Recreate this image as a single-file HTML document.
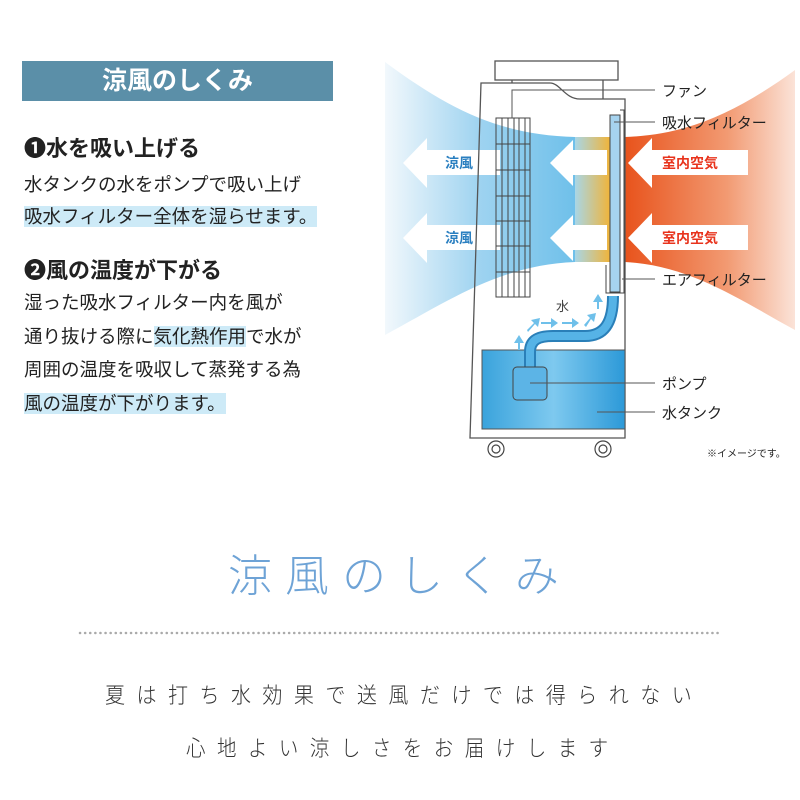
<!DOCTYPE html>
<html><head><meta charset="utf-8"><style>
html,body{margin:0;padding:0;background:#fff;width:800px;height:800px;overflow:hidden}
body{position:relative;font-family:"Liberation Sans","Noto Sans CJK JP",sans-serif;color:#222}
.t{position:absolute;white-space:nowrap}
.hl{background:#cdeaf7}
</style></head><body>
<svg width="800" height="800" style="position:absolute;left:0;top:0">
<defs>
<linearGradient id="bl" x1="0" x2="1"><stop offset="0" stop-color="#f2f8fc"/><stop offset="0.5" stop-color="#9ed3f0"/><stop offset="1" stop-color="#6fc0ea"/></linearGradient>
<linearGradient id="rd" x1="0" x2="1"><stop offset="0" stop-color="#e8531c"/><stop offset="0.6" stop-color="#f29a72"/><stop offset="1" stop-color="#fbe3d8"/></linearGradient>
<linearGradient id="yl" x1="0" x2="1"><stop offset="0" stop-color="#a9d6e6"/><stop offset="1" stop-color="#f0b43a"/></linearGradient>
<linearGradient id="tk" x1="0" x2="1"><stop offset="0" stop-color="#3aa3dc"/><stop offset="0.5" stop-color="#7ec9ef"/><stop offset="1" stop-color="#2c99d8"/></linearGradient>
</defs>
<path d="M385,62 C450,110 500,135 575,137 L575,262 C500,265 450,300 385,335 Z" fill="url(#bl)"/>
<rect x="575" y="137" width="35" height="125" fill="url(#yl)"/>
<path d="M625,137 C690,135 740,110 795,70 L795,330 C740,300 690,265 625,262 Z" fill="url(#rd)"/>
<g fill="#fff">
<path d="M403,163 L427,138 L427,150 L500,150 L500,175 L427,175 L427,188 Z"/>
<path d="M403,238 L427,213 L427,225 L500,225 L500,250 L427,250 L427,263 Z"/>
<path d="M550,163 L573,140 L573,150 L607,150 L607,175 L573,175 L573,186 Z"/>
<path d="M550,238 L573,215 L573,225 L607,225 L607,250 L573,250 L573,261 Z"/>
<path d="M628,163 L652,138 L652,150 L748,150 L748,175 L652,175 L652,188 Z"/>
<path d="M628,238 L652,213 L652,225 L748,225 L748,250 L652,250 L652,263 Z"/>
</g>
<g fill="none" stroke="#555" stroke-width="1.3">
<rect x="495" y="61" width="123" height="19"/>
<path d="M481,83 L550,83 C560,83 565,99 580,99 L625,99 L625,438 L470,438 Z"/>
<path d="M512,83 L512,80 M603,80 L603,99"/>
</g>
<rect x="482" y="350" width="143" height="79" fill="url(#tk)" stroke="#555" stroke-width="1"/>
<g stroke="#444" stroke-width="1" fill="none">
<rect x="496" y="118" width="34" height="179"/>
<path d="M502,118V297M508,118V297M514,118V297M519,118V297M525,118V297"/>
<path d="M496,144H530M496,170H530M496,196H530M496,221H530M496,246H530M496,272H530"/>
</g>
<rect x="610" y="115" width="10" height="177" fill="#a6d3ef" stroke="#444" stroke-width="1"/>
<path d="M620,110 L624,110 L624,293 L606,293 L606,265" fill="none" stroke="#444" stroke-width="1"/>
<path d="M530,367 L530,352 C530,340 538,336 553,336 L585,336 C605,336 613,322 613,296" fill="none" stroke="#2a7fb8" stroke-width="12"/>
<path d="M530,367 L530,352 C530,340 538,336 553,336 L585,336 C605,336 613,322 613,296" fill="none" stroke="#56b3e6" stroke-width="8"/>
<rect x="513" y="367" width="34" height="33" rx="4" fill="#5cb4e6" stroke="#444" stroke-width="1"/>
<g fill="#6fc0ea">
<path d="M518,350 L518,343 L514,343 L519,335 L524,343 L520,343 L520,350Z"/>
<path d="M527,330 L534,323 L531,320 L540,318 L538,327 L535,324 L528,332Z"/>
<path d="M541,322 L551,322 L551,318 L558,323 L551,328 L551,324 L541,324Z"/>
<path d="M562,322 L572,322 L572,318 L579,323 L572,328 L572,324 L562,324Z"/>
<path d="M584,325 L590,318 L587,315 L596,313 L594,322 L591,319 L586,327Z"/>
<path d="M597,309 L597,302 L593,302 L598,294 L603,302 L599,302 L599,309Z"/>
</g>
<g fill="#fff" stroke="#444" stroke-width="1.2">
<circle cx="496" cy="449" r="8"/><circle cx="496" cy="449" r="4"/>
<circle cx="603" cy="449" r="8"/><circle cx="603" cy="449" r="4"/>
</g>
<g stroke="#555" stroke-width="1" fill="none">
<path d="M512,118 L512,90 L655,90"/>
<path d="M614,122 L655,122"/>
<path d="M622,279 L655,279"/>
<path d="M530,383 L655,383"/>
<path d="M597,412 L655,412"/>
</g>
<line x1="80" y1="633" x2="718" y2="633" stroke="#aaa" stroke-width="2.5" stroke-dasharray="0.1 5" stroke-linecap="round"/>
</svg>

<div class="t" style="left:22px;top:61px;width:311px;height:40px;background:#5b8fa8"></div>
<div class="t" style="left:22px;top:61px;width:311px;line-height:40px;text-align:center;color:#fff;font-size:25px;font-weight:bold">涼風のしくみ</div>
<div class="t" style="left:24px;top:131px;font-size:22px;font-weight:bold">❶水を吸い上げる</div>
<div class="t" style="left:24px;top:171px;font-size:18.5px">水タンクの水をポンプで吸い上げ</div>
<div class="t" style="left:24px;top:203px;font-size:18.5px"><span class="hl">吸水フィルター全体を湿らせます。</span></div>
<div class="t" style="left:24px;top:253px;font-size:22px;font-weight:bold">❷風の温度が下がる</div>
<div class="t" style="left:24px;top:289px;font-size:18.5px">湿った吸水フィルター内を風が</div>
<div class="t" style="left:24px;top:323px;font-size:18.5px">通り抜ける際に<span class="hl">気化熱作用</span>で水が</div>
<div class="t" style="left:24px;top:356px;font-size:18.5px">周囲の温度を吸収して蒸発する為</div>
<div class="t" style="left:24px;top:390px;font-size:18.5px"><span class="hl">風の温度が下がります。</span></div>

<div class="t" style="left:445px;top:153px;font-size:14px;font-weight:bold;color:#2a7fc0">涼風</div>
<div class="t" style="left:445px;top:228px;font-size:14px;font-weight:bold;color:#2a7fc0">涼風</div>
<div class="t" style="left:662px;top:153px;font-size:14px;font-weight:bold;color:#e8331c">室内空気</div>
<div class="t" style="left:662px;top:228px;font-size:14px;font-weight:bold;color:#e8331c">室内空気</div>
<div class="t" style="left:662px;top:80px;font-size:15px">ファン</div>
<div class="t" style="left:662px;top:112px;font-size:15px">吸水フィルター</div>
<div class="t" style="left:662px;top:269px;font-size:15px">エアフィルター</div>
<div class="t" style="left:556px;top:296px;font-size:13px;color:#444">水</div>
<div class="t" style="left:662px;top:373px;font-size:15px">ポンプ</div>
<div class="t" style="left:662px;top:402px;font-size:15px">水タンク</div>
<div class="t" style="left:707px;top:445px;font-size:10px">※イメージです。</div>

<div class="t" style="left:228px;top:540px;font-size:44px;letter-spacing:13px;color:#6ea3d6;font-weight:300">涼風のしくみ</div>
<div class="t" style="left:105px;top:678px;font-size:22px;letter-spacing:12.6px;color:#333;font-weight:300;transform-origin:0 0;transform:scaleX(0.91)">夏は打ち水効果で送風だけでは得られない</div>
<div class="t" style="left:186px;top:731px;font-size:22px;letter-spacing:13px;color:#333;font-weight:300;transform-origin:0 0;transform:scaleX(0.885)">心地よい涼しさをお届けします</div>
</body></html>
